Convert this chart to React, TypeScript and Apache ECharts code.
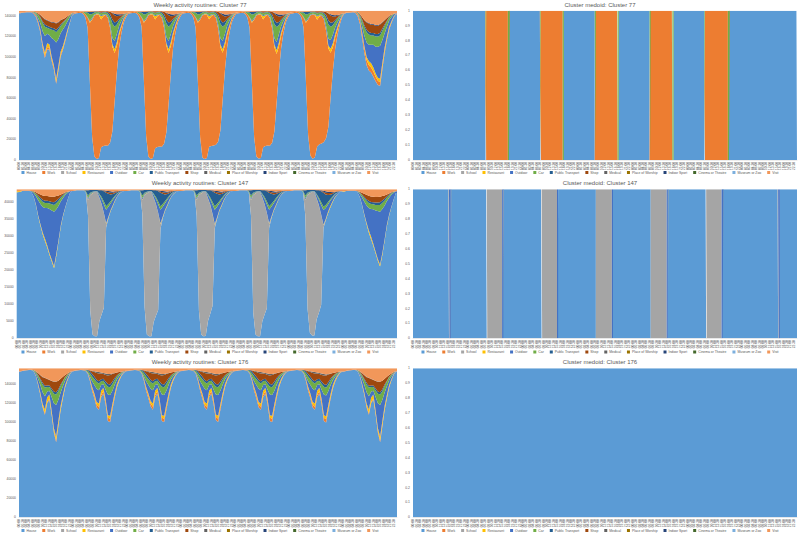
import React, { useEffect, useRef } from "react";
import * as echarts from "echarts";

const SERIES_NAMES = ["House","Work","School","Restaurant","Outdoor","Car","Public Transport","Shop","Medical","Place of Worship","Indoor Sport","Cinema or Theatre","Museum or Zoo","Visit"];
const SERIES_COLORS = ["#5B9BD5","#ED7D31","#A5A5A5","#FFC000","#4472C4","#70AD47","#255E91","#9E480E","#636363","#997300","#264478","#43682B","#7CAFDD","#F1975A"];
const DAY_TICKS = ["00:00","01:30","03:00","04:30","06:00","07:30","09:00","10:30","12:00","13:30","15:00","16:30","18:00","19:30","21:00","22:30"];

// ---------- Cluster 77 (thousands of people, hourly, Sun..Sat) ----------
const c77Total = 145;
const c77Work = [
  [.5,.5,.5,.5,.5,.5,1,1.5,2,2,2.5,2.5,2.5,2,2,2,2,2,2,1.5,1,1,.5,.5],
  [1,1,1,1,1.5,3,10,58,114,137,140.5,139,124,126,127,124,111,82,47,25,12,6,3,2],
  [1,1,1,1,1.5,3,9,56,113,137,140.5,139,125,127,128,125,112,84,49,26,12,6,3,2],
  [1,1,1,1,1.5,3,10,57,114,138,140.5,139,124,126,127,123,110,81,46,24,12,6,3,2],
  [1,1,1,1,1.5,3,10,58,114,137,140,139,124,126,127,124,111,82,47,25,12,6,3,2],
  [1,1,1,1,1.5,3,10,56,112,136,140,138,123,124,124,119,104,76,43,23,11,6,3,1.5],
  [.5,.5,.5,.5,.5,1,2,3,4,5,5,5,5,5,4.5,4,3.5,3,2.5,2,1.5,1,.5,.5],
];
const c77Restaurant = [
  [0,0,0,0,0,0,0,.3,.5,1,1.5,3,4,3,2,2,3,3,3,2.5,2,1.5,.5,0],
  [0,0,0,0,0,0,.3,.8,.5,.3,.3,.6,3,1,.3,.5,1,2.5,3.5,3.5,3,2,1,.3],
  [0,0,0,0,0,0,.3,.8,.5,.3,.3,.6,3,1,.3,.5,1,2.5,3.5,3.5,3,2,1,.3],
  [0,0,0,0,0,0,.3,.8,.5,.3,.3,.6,2.8,1,.3,.5,1,2.5,3.4,3.5,3,2,1,.3],
  [0,0,0,0,0,0,.3,.8,.5,.3,.3,.6,3,1,.3,.5,1,2.6,3.6,3.6,3.1,2,1,.3],
  [0,0,0,0,0,0,.3,.8,.5,.3,.3,.6,3.2,1.1,.4,.6,1.2,2.8,3.8,3.8,3.3,2.3,1.2,.4],
  [0,0,0,0,0,0,.2,.8,1.5,2,3,4,4,4,3,3,3.5,3.5,3,2,1.5,1,.3,0],
];
const c77Outdoor = [
  [0,0,0,0,0,0,.5,1,3,6,12,16,9,9,18,25,35,26,18,16,12,8,5,1.5],
  [0,0,0,0,0,0,.5,1,1,.5,.5,.5,1,.5,.5,1.5,3,6,8,8,6,4,2,.8],
  [0,0,0,0,0,0,.5,1,1,.5,.5,.5,1,.5,.5,1.5,3,6,8,8,6,4,2,.8],
  [0,0,0,0,0,0,.5,1,1,.5,.5,.5,1,.5,.5,1.5,3.2,6.2,8,8,6,4,2,.8],
  [0,0,0,0,0,0,.5,1,1,.5,.5,.5,1,.5,.5,1.5,3,6,8.2,8.2,6.2,4,2,.8],
  [0,0,0,0,0,0,.5,1,1,.5,.5,.6,1,.6,.6,1.8,3.5,6.5,8.5,8.5,6.5,4.5,2.5,1],
  [0,0,0,0,0,0,.5,2,6,10,14,16,18,22,26,30,32,22,14,9,6,4,2,.5],
];
const c77Car = [
  [0,0,0,0,0,0,.5,1,3,5,8,9,6,6,8,9,10,9,7,6,5,3.5,2,.5],
  [0,0,0,0,.5,2,4,6,4,2,1.5,1.5,2,2,1.5,2.5,7,14,14,9,5,3,1.5,.5],
  [0,0,0,0,.5,2,4,6,4,2,1.5,1.5,2,2,1.5,2.5,7,13,14,9,5,3,1.5,.5],
  [0,0,0,0,.5,2,4,6,4,2,1.5,1.5,2,2,1.5,2.5,7,14,14,9,5,3,1.5,.5],
  [0,0,0,0,.5,2,4,6,4,2,1.5,1.5,2,2,1.5,2.5,7,14,14.5,9,5,3,1.5,.5],
  [0,0,0,0,.5,2,4,6,4,2,1.5,1.5,2,2,2,3,8,14,13,9,5.5,3.5,2,.5],
  [0,0,0,0,0,0,.8,2,5,8,10,10,9,9,10,10,10,9,7,5,3,1.5,.5,0],
];
const c77PublicTransport = [
  [0,0,0,0,0,0,0,.3,.5,1,1.5,2,2,2,2,2,2.5,2,1.5,1,.7,.5,.2,0],
  [0,0,0,0,0,.5,1,2.5,2,1,.5,.5,.5,.5,.5,1,2.5,4,4,3,1.5,.8,.3,0],
  [0,0,0,0,0,.5,1,2.5,2,1,.5,.5,.5,.5,.5,1,2.5,4,4,3,1.5,.8,.3,0],
  [0,0,0,0,0,.5,1,2.5,2,1,.5,.5,.5,.5,.5,1,2.5,4,4,3,1.5,.8,.3,0],
  [0,0,0,0,0,.5,1,2.5,2,1,.5,.5,.5,.5,.5,1,2.5,4,4,3,1.5,.8,.3,0],
  [0,0,0,0,0,.5,1,2.5,2,1,.5,.5,.5,.5,.6,1.2,2.7,4,3.8,3,1.6,.9,.4,.1],
  [0,0,0,0,0,0,.3,.8,1.5,2,2.5,2.5,2.5,2.5,2.5,2.5,2.5,2,1.5,1,.5,.3,0,0],
];
const c77Shop = [
  [0,0,0,0,0,0,0,.3,1,2,4,5,5,5,5,5.5,6,5,4,3,2,1,.5,0],
  [0,0,0,0,0,0,0,.3,.4,.3,.3,.5,1.5,.8,.6,1,2.5,6,7,5,3,1.5,.5,.2],
  [0,0,0,0,0,0,0,.3,.4,.3,.3,.5,1.5,.8,.6,1,2.5,6,7,5,3,1.5,.5,.2],
  [0,0,0,0,0,0,0,.3,.4,.3,.3,.5,1.4,.8,.6,1,2.6,6.2,7,5,3,1.5,.5,.2],
  [0,0,0,0,0,0,0,.3,.4,.3,.3,.5,1.5,.8,.6,1.1,2.6,6.2,7.2,5.2,3.2,1.6,.5,.2],
  [0,0,0,0,0,0,0,.3,.4,.3,.4,.6,1.6,.9,.8,1.3,3,6.5,7,5.5,3.5,2,.8,.3],
  [0,0,0,0,0,0,.2,1,2.5,5,7,8,8,8,8,8,8,6,4,2.5,1,.5,.2,0],
];
const c77IndoorSport = [
  [0,0,0,0,0,0,0,0,0,.2,.4,.5,.5,.5,.5,.5,.5,.4,.3,.2,.1,0,0,0],
  [0,0,0,0,0,0,0,0,0,0,0,0,0,0,0,0,0,.5,1.5,2,1.5,1,.3,0],
  [0,0,0,0,0,0,0,0,0,0,0,0,0,0,0,0,0,.5,1.5,2,1.5,1,.3,0],
  [0,0,0,0,0,0,0,0,0,0,0,0,0,0,0,0,0,.5,1.5,2,1.5,1,.3,0],
  [0,0,0,0,0,0,0,0,0,0,0,0,0,0,0,0,0,.5,1.5,2,1.5,1,.3,0],
  [0,0,0,0,0,0,0,0,0,0,0,0,0,0,0,0,0,.4,1.2,1.5,1.2,.8,.3,0],
  [0,0,0,0,0,0,0,0,0,.3,.5,.6,.6,.6,.6,.6,.5,.4,.3,.2,.1,0,0,0],
];
const c77Visit = [
  [2,1.5,1.2,1,1,1,1,1.5,2.5,4,6,8,9,10,11,11,12,11,9,8,7,5.5,4,2.5],
  [2,1.5,1.2,1,1,1,1,1,.8,.5,.5,.5,.5,.5,.5,.6,1,2,3,3.5,3.5,3.5,3,2.5],
  [2,1.5,1.2,1,1,1,1,1,.8,.5,.5,.5,.5,.5,.5,.6,1,2,3,3.5,3.6,3.5,3,2.5],
  [2,1.5,1.2,1,1,1,1,1,.8,.5,.5,.5,.5,.5,.5,.6,1,2,3,3.6,3.6,3.5,3,2.5],
  [2,1.5,1.2,1,1,1,1,1,.8,.5,.5,.5,.5,.5,.5,.6,1.1,2.1,3.1,3.7,3.8,3.7,3.2,2.6],
  [2,1.6,1.3,1.1,1,1,1,1,.8,.5,.5,.5,.5,.5,.6,.7,1.2,2.4,3.5,4.2,4.5,4.2,3.6,3],
  [2.4,1.8,1.4,1.2,1,1,1.2,3,6,9,11,12,13,13,14,14,13,11,9,7,5,4,3,2.5],
];

// ---------- Cluster 147 ----------
const c147Total = 43.8;
const c147School = [
  [0,0,0,0,0,0,0,0,0,0,0,0,0,0,0,0,0,0,0,0,0,0,0,0],
  [0,0,0,0,0,0,0,4.5,34,41.5,42.5,42.5,36.3,32.4,27.8,1,.3,0,0,0,0,0,0,0],
  [0,0,0,0,0,0,0,4,33,41.5,42.5,42.5,36.5,32.8,28.5,1.5,.3,0,0,0,0,0,0,0],
  [0,0,0,0,0,0,0,4.5,34,41.5,42.5,42.4,36,32,27,1,.3,0,0,0,0,0,0,0],
  [0,0,0,0,0,0,0,4.5,34.5,41.5,42.5,42.5,36.3,32.4,28,1.2,.3,0,0,0,0,0,0,0],
  [0,0,0,0,0,0,0,4.5,33.5,41,42.3,42.3,35.5,31.5,26.5,.8,.2,0,0,0,0,0,0,0],
  [0,0,0,0,0,0,0,0,0,0,0,0,0,0,0,0,0,0,0,0,0,0,0,0],
];
const c147Restaurant = [
  [.3,.2,.1,0,0,0,0,.1,.2,.3,.4,.6,.8,.6,.5,.5,.6,.6,.5,.4,.3,.2,.1,0],
  [0,0,0,0,0,0,0,.1,.1,.1,0,0,.1,.1,.1,.2,.2,.3,.3,.2,.1,.1,0,0],
  [0,0,0,0,0,0,0,.1,.1,.1,0,0,.1,.1,.1,.2,.2,.3,.3,.2,.1,.1,0,0],
  [0,0,0,0,0,0,0,.1,.1,.1,0,0,.1,.1,.1,.2,.2,.3,.3,.2,.1,.1,0,0],
  [0,0,0,0,0,0,0,.1,.1,.1,0,0,.1,.1,.1,.2,.2,.3,.3,.2,.1,.1,0,0],
  [0,0,0,0,0,0,0,.1,.1,.1,0,0,.1,.1,.1,.2,.3,.4,.4,.3,.2,.1,0,0],
  [.1,0,0,0,0,0,0,.1,.2,.3,.4,.6,.8,.6,.5,.5,.6,.6,.5,.4,.3,.2,.1,0],
];
const c147Outdoor = [
  [0,0,0,0,0,0,.3,1,2.5,4.5,6,7.5,9,11,13,14.5,16,13,10,7,5,3.5,2,.5],
  [0,0,0,0,0,0,.1,.5,.3,.2,.1,.1,.8,1.5,2.5,4,3,2,1.5,1,.6,.3,.1,0],
  [0,0,0,0,0,0,.1,.5,.3,.2,.1,.1,.8,1.5,2.5,4,3,2,1.5,1,.6,.3,.1,0],
  [0,0,0,0,0,0,.1,.5,.3,.2,.1,.1,.9,1.6,2.7,4.2,3.1,2,1.5,1,.6,.3,.1,0],
  [0,0,0,0,0,0,.1,.5,.3,.2,.1,.1,.8,1.5,2.5,4,3,2,1.5,1,.6,.3,.1,0],
  [0,0,0,0,0,0,.1,.5,.3,.2,.1,.1,.9,1.7,2.8,4.3,3.2,2.2,1.6,1.1,.7,.4,.2,0],
  [0,0,0,0,0,0,.3,.8,2,3.5,5,6.5,8,10,12,14,15.5,13,10,7,5,3.5,2,.5],
];
const c147Car = [
  [0,0,0,0,0,0,.1,.3,.6,1,1.3,1.5,1.5,1.5,1.6,1.8,2,1.8,1.4,1,.7,.4,.2,0],
  [0,0,0,0,0,0,.2,.8,.3,.2,.1,.1,.3,.5,.8,1,.8,.6,.5,.3,.2,.1,0,0],
  [0,0,0,0,0,0,.2,.8,.3,.2,.1,.1,.3,.5,.8,1,.8,.6,.5,.3,.2,.1,0,0],
  [0,0,0,0,0,0,.2,.8,.3,.2,.1,.1,.3,.5,.8,1,.8,.6,.5,.3,.2,.1,0,0],
  [0,0,0,0,0,0,.2,.8,.3,.2,.1,.1,.3,.5,.8,1,.8,.6,.5,.3,.2,.1,0,0],
  [0,0,0,0,0,0,.2,.8,.3,.2,.1,.1,.3,.5,.8,1,.9,.7,.5,.3,.2,.1,0,0],
  [0,0,0,0,0,0,.1,.3,.6,1,1.3,1.5,1.5,1.5,1.6,1.8,2,1.8,1.4,1,.7,.4,.2,0],
];
const c147PublicTransport = [
  [0,0,0,0,0,0,0,.1,.2,.4,.5,.6,.6,.6,.7,.7,.8,.7,.6,.4,.3,.2,.1,0],
  [0,0,0,0,0,0,.2,1.5,.8,.5,.3,.3,1,2,3,4,3,2,1.2,.7,.4,.2,.1,0],
  [0,0,0,0,0,0,.2,1.5,.8,.5,.3,.3,1,2,3,4,3,2,1.2,.7,.4,.2,.1,0],
  [0,0,0,0,0,0,.2,1.5,.8,.5,.3,.3,1.1,2.1,3.1,4,3,2,1.2,.7,.4,.2,.1,0],
  [0,0,0,0,0,0,.2,1.5,.8,.5,.3,.3,1,2,3,4,3,2,1.2,.7,.4,.2,.1,0],
  [0,0,0,0,0,0,.2,1.5,.8,.5,.3,.3,1.1,2.2,3.2,4.1,3.1,2.1,1.3,.8,.5,.3,.1,0],
  [0,0,0,0,0,0,0,.1,.2,.4,.5,.6,.6,.6,.7,.7,.8,.7,.6,.4,.3,.2,.1,0],
];
const c147Shop = [
  [0,0,0,0,0,0,0,.1,.3,.6,1,1.3,1.4,1.4,1.4,1.5,1.6,1.4,1,.6,.3,.1,0,0],
  [0,0,0,0,0,0,0,0,0,0,0,0,.1,.1,.2,.3,.4,.5,.4,.3,.2,.1,0,0],
  [0,0,0,0,0,0,0,0,0,0,0,0,.1,.1,.2,.3,.4,.5,.4,.3,.2,.1,0,0],
  [0,0,0,0,0,0,0,0,0,0,0,0,.1,.1,.2,.3,.4,.5,.4,.3,.2,.1,0,0],
  [0,0,0,0,0,0,0,0,0,0,0,0,.1,.1,.2,.3,.4,.5,.4,.3,.2,.1,0,0],
  [0,0,0,0,0,0,0,0,0,0,0,0,.1,.1,.2,.3,.5,.6,.5,.4,.2,.1,0,0],
  [0,0,0,0,0,0,0,.2,.5,.9,1.3,1.5,1.6,1.6,1.6,1.6,1.6,1.3,1,.6,.3,.1,0,0],
];
const c147IndoorSport = [
  [0,0,0,0,0,0,0,0,0,0,0,0,0,0,0,0,0,0,0,0,0,0,0,0],
  [0,0,0,0,0,0,0,0,0,0,0,0,0,0,.1,.3,.4,.4,.3,.2,0,0,0,0],
  [0,0,0,0,0,0,0,0,0,0,0,0,0,0,.1,.3,.4,.4,.3,.2,0,0,0,0],
  [0,0,0,0,0,0,0,0,0,0,0,0,0,0,.1,.3,.4,.4,.3,.2,0,0,0,0],
  [0,0,0,0,0,0,0,0,0,0,0,0,0,0,.1,.3,.4,.4,.3,.2,0,0,0,0],
  [0,0,0,0,0,0,0,0,0,0,0,0,0,0,.1,.3,.4,.4,.3,.2,0,0,0,0],
  [0,0,0,0,0,0,0,0,0,0,0,0,0,0,0,0,0,0,0,0,0,0,0,0],
];
const c147Visit = [
  [.6,.5,.4,.4,.4,.4,.5,.6,.9,1.2,1.5,1.8,2,2,2.1,2.2,2.2,2,1.8,1.5,1.2,.9,.7,.6],
  [.5,.4,.3,.3,.3,.3,.3,.3,.2,.2,.2,.2,.2,.2,.3,.4,.5,.6,.7,.6,.5,.4,.5,.5],
  [.5,.4,.3,.3,.3,.3,.3,.3,.2,.2,.2,.2,.2,.2,.3,.4,.5,.6,.7,.6,.5,.4,.5,.5],
  [.5,.4,.3,.3,.3,.3,.3,.3,.2,.2,.2,.2,.2,.2,.3,.4,.5,.6,.7,.6,.5,.4,.5,.5],
  [.5,.4,.3,.3,.3,.3,.3,.3,.2,.2,.2,.2,.2,.2,.3,.4,.5,.6,.7,.6,.5,.4,.5,.5],
  [.5,.4,.3,.3,.3,.3,.3,.3,.2,.2,.2,.2,.2,.2,.3,.4,.6,.7,.8,.8,.7,.6,.6,.6],
  [.6,.5,.4,.4,.4,.4,.5,.7,1,1.3,1.6,1.9,2.1,2.2,2.3,2.3,2.2,2,1.8,1.5,1.2,.9,.7,.6],
];

// ---------- Cluster 176 ----------
const c176Total = 156.8;
const c176Work = [
  [.3,.3,.3,.3,.3,.3,.4,.6,1,1.2,1.5,1.5,1.2,1.2,1.5,1.8,2,1.8,1.2,.8,.6,.5,.4,.3],
  [.3,.3,.3,.3,.4,.5,.8,1.5,2.5,3,3,3,2.5,2.5,3,3.5,3.5,3,2,1.2,.8,.5,.4,.3],
  [.3,.3,.3,.3,.4,.5,.8,1.5,2.5,3,3,3,2.5,2.5,3,3.5,3.5,3,2,1.2,.8,.5,.4,.3],
  [.3,.3,.3,.3,.4,.5,.8,1.5,2.5,3,3,3,2.5,2.5,3,3.5,3.5,3,2,1.2,.8,.5,.4,.3],
  [.3,.3,.3,.3,.4,.5,.8,1.5,2.5,3,3,3,2.5,2.5,3,3.5,3.5,3,2,1.2,.8,.5,.4,.3],
  [.3,.3,.3,.3,.4,.5,.8,1.5,2.5,3,3,3,2.5,2.5,3,3.5,3.5,3,2,1.2,.8,.5,.4,.3],
  [.3,.3,.3,.3,.3,.3,.4,.6,1,1.2,1.5,1.5,1.2,1.2,1.5,1.8,2,1.8,1.2,.8,.6,.5,.4,.3],
];
const c176Restaurant = [
  [0,0,0,0,0,0,0,.3,.8,1.5,2.5,4,5,4,3,3,4,4,3.5,3,2,1,.4,0],
  [0,0,0,0,0,0,.2,.8,1.5,2,2.5,3.5,4.5,3.5,2.5,2.5,3,3,3,2.5,1.5,.8,.3,0],
  [0,0,0,0,0,0,.2,.8,1.5,2,2.5,3.5,4.5,3.5,2.5,2.5,3,3,3,2.5,1.5,.8,.3,0],
  [0,0,0,0,0,0,.2,.8,1.5,2,2.5,3.5,4.5,3.5,2.5,2.5,3,3,3,2.5,1.5,.8,.3,0],
  [0,0,0,0,0,0,.2,.8,1.5,2,2.5,3.5,4.5,3.5,2.5,2.5,3,3,3,2.5,1.5,.8,.3,0],
  [0,0,0,0,0,0,.2,.8,1.5,2,2.5,3.5,4.5,3.5,2.5,2.5,3,3.2,3.2,2.8,1.8,1,.4,0],
  [0,0,0,0,0,0,0,.3,.8,1.5,2.5,4,5,4,3,3,4,4,3.5,3,2,1,.4,0],
];
const c176Outdoor = [
  [0,0,0,0,0,0,.5,2,5,8,12,14,6,4,14,26,33,22,14,9,5,3,1,.3],
  [0,0,0,0,0,0,.5,2,6,9,14,14,6,4,10,22,22,14,9,5,3,1.5,.5,.2],
  [0,0,0,0,0,0,.5,2,6,9,13,14,6,4,10,22,22,14,9,5,3,1.5,.5,.2],
  [0,0,0,0,0,0,.5,2,6,9,14,14,6,4,10,21,22,14,9,5,3,1.5,.5,.2],
  [0,0,0,0,0,0,.5,2,6,9,14,14,6,4,10,22,22,14,9,5,3,1.5,.5,.2],
  [0,0,0,0,0,0,.5,2,6,9,14,14,6,4,10,22,22,14,9,5,3,1.5,.5,.2],
  [0,0,0,0,0,0,.5,2,5,8,12,14,6,4,14,26,33,22,14,9,5,3,1,.3],
];
const c176Car = [
  [0,0,0,0,0,0,.5,1.5,3,5,8,9,5,4,7,10,11,9,7,5,3,1.5,.5,0],
  [0,0,0,0,0,.3,1.5,3.5,5,6,7,7,4,3.5,6,8,8,7,5,3,2,1,.4,0],
  [0,0,0,0,0,.3,1.5,3.5,5,6,7,7,4,3.5,6,8,8,7,5,3,2,1,.4,0],
  [0,0,0,0,0,.3,1.5,3.5,5,6,7,7,4,3.5,6,8,8,7,5,3,2,1,.4,0],
  [0,0,0,0,0,.3,1.5,3.5,5,6,7,7,4,3.5,6,8,8,7,5,3,2,1,.4,0],
  [0,0,0,0,0,.3,1.5,3.5,5,6,7,7,4,3.5,6,8,8,7,5,3,2,1,.4,0],
  [0,0,0,0,0,0,.5,1.5,3,5,8,9,5,4,7,10,11,9,7,5,3,1.5,.5,0],
];
const c176PublicTransport = [
  [0,0,0,0,0,0,.2,.5,1,1.5,2,2,1.5,1.5,2,2.5,2.5,2,1.5,1,.5,.3,.1,0],
  [0,0,0,0,0,.2,.8,2,2.5,2.5,2.5,2.5,2,2,2.5,3,3,2.5,2,1.2,.6,.3,.1,0],
  [0,0,0,0,0,.2,.8,2,2.5,2.5,2.5,2.5,2,2,2.5,3,3,2.5,2,1.2,.6,.3,.1,0],
  [0,0,0,0,0,.2,.8,2,2.5,2.5,2.5,2.5,2,2,2.5,3,3,2.5,2,1.2,.6,.3,.1,0],
  [0,0,0,0,0,.2,.8,2,2.5,2.5,2.5,2.5,2,2,2.5,3,3,2.5,2,1.2,.6,.3,.1,0],
  [0,0,0,0,0,.2,.8,2,2.5,2.5,2.5,2.5,2,2,2.5,3,3,2.5,2,1.2,.6,.3,.1,0],
  [0,0,0,0,0,0,.2,.5,1,1.5,2,2,1.5,1.5,2,2.5,2.5,2,1.5,1,.5,.3,.1,0],
];
const c176Shop = [
  [0,0,0,0,0,0,0,.5,2,4,6,8,7,6,8,10,11,9,6,4,2,1,.3,0],
  [0,0,0,0,0,0,.2,1,3,5,7,8,6,5,7,9,10,8,5,3,1.5,.6,.2,0],
  [0,0,0,0,0,0,.2,1,3,5,7,8,6,5,7,9,10,8,5,3,1.5,.6,.2,0],
  [0,0,0,0,0,0,.2,1,3,5,7,8,6,5,7,9,10,8,5,3,1.5,.6,.2,0],
  [0,0,0,0,0,0,.2,1,3,5,7,8,6,5,7,9,10,8,5,3,1.5,.6,.2,0],
  [0,0,0,0,0,0,.2,1,3,5,7,8,6,5,7,9,10,8,5,3,1.5,.6,.2,0],
  [0,0,0,0,0,0,0,.5,2,4,6,8,7,6,8,10,11,9,6,4,2,1,.3,0],
];
const c176Medical = [
  [0,0,0,0,0,0,0,0,.1,.2,.3,.3,.2,.2,.3,.3,.2,.1,0,0,0,0,0,0],
  [0,0,0,0,0,0,0,.2,.5,1,1.5,1.5,1,1,1.5,1.5,1,.5,.2,0,0,0,0,0],
  [0,0,0,0,0,0,0,.2,.5,1,1.5,1.5,1,1,1.5,1.5,1,.5,.2,0,0,0,0,0],
  [0,0,0,0,0,0,0,.2,.5,1,1.5,1.5,1,1,1.5,1.5,1,.5,.2,0,0,0,0,0],
  [0,0,0,0,0,0,0,.2,.5,1,1.5,1.5,1,1,1.5,1.5,1,.5,.2,0,0,0,0,0],
  [0,0,0,0,0,0,0,.2,.5,1,1.5,1.5,1,1,1.5,1.5,1,.5,.2,0,0,0,0,0],
  [0,0,0,0,0,0,0,0,.1,.2,.3,.3,.2,.2,.3,.3,.2,.1,0,0,0,0,0,0],
];
const c176Visit = [
  [3,2.5,2,1.8,1.6,1.6,1.8,3,5,7,9,10,11,12,13,14,14,13,11,9,7,5.5,4,3],
  [2.5,2,1.8,1.6,1.6,1.6,1.6,2,2.5,3,3.5,4,4.5,5,5.5,6,6,5.5,5,4.5,4,3.5,3,2.5],
  [2.5,2,1.8,1.6,1.6,1.6,1.6,2,2.5,3,3.5,4,4.5,5,5.5,6,6,5.5,5,4.5,4,3.5,3,2.5],
  [2.5,2,1.8,1.6,1.6,1.6,1.6,2,2.5,3,3.5,4,4.5,5,5.5,6,6,5.5,5,4.5,4,3.5,3,2.5],
  [2.5,2,1.8,1.6,1.6,1.6,1.6,2,2.5,3,3.5,4,4.5,5,5.5,6,6,5.5,5,4.5,4,3.5,3,2.5],
  [2.5,2,1.8,1.6,1.6,1.6,1.6,2,2.5,3,3.5,4,4.5,5,5.5,6,6.5,6,5.5,5,4.5,4,3.5,3],
  [3,2.5,2,1.8,1.6,1.6,1.8,3,5,7,9,10,11,12,13,14,14,13,11,9,7,5.5,4,3],
];

// ---------- Medoids: [activity, day (0=Sun), start hour, end hour]; rest of the week is House ----------
type Seg = [string, number, number, number];
const med77Segments: Seg[] = [
  ["Car",1,7.75,8],["Work",1,8,17.5],["Car",1,17.5,18],
  ["Car",2,7.75,8],["Work",2,8,17.5],["Car",2,17.5,18],
  ["Car",3,7.5,7.75],["Work",3,7.75,17.5],["Car",3,17.5,18],
  ["Car",4,7.5,7.75],["Work",4,7.75,17.5],["Car",4,17.5,18],
  ["Car",5,7.5,7.75],["Work",5,7.75,17.75],["Car",5,17.75,18.25],
];
const med147Segments: Seg[] = [
  ["Outdoor",0,15.75,16.5],
  ["School",1,8.25,15],["Outdoor",1,15,15.5],
  ["School",2,8.25,15],["Outdoor",2,15,15.5],
  ["School",3,8,15],["Outdoor",3,15,15.5],
  ["School",4,8,15],["Outdoor",4,15,15.5],
  ["School",5,8.25,15],["Outdoor",5,15,15.5],
  ["Outdoor",6,15.75,16.5],
];
const med176Segments: Seg[] = [];

// ---------- builders ----------
function flatDays(d?: number[][]): number[] {
  return d ? d.flat() : new Array(168).fill(0);
}

// data items are [value, hour]; encode maps dim 1 -> x, dim 0 -> y so that the stack runs on the value.
// Series that are zero all week get no points (they still appear in the legend).
function lineSeries(name: string, k: number, data: number[][], step: boolean) {
  const color = SERIES_COLORS[k];
  const used = data.some((d) => d[0] !== 0);
  return {
    name, type: "line", stack: "all", data: used ? data : [], step: step ? "end" : false,
    encode: { x: 1, y: 0 },
    symbol: "none", showSymbol: false, color,
    lineStyle: { width: 0, color }, itemStyle: { color },
    areaStyle: { color, opacity: 1 }, emphasis: { disabled: true }, silent: true,
  };
}

function buildAggregate(total: number, parts: Record<string, number[][]>) {
  const vals = SERIES_NAMES.map((n) => flatDays(parts[n]));
  vals[0] = vals[0].map((_, i) => total - vals.slice(1).reduce((s, v) => s + v[i], 0));
  return SERIES_NAMES.map((name, k) => {
    const v = vals[k];
    const data: number[][] = [[v[0] * 1000, 0]];
    for (let i = 0; i < 168; i++) data.push([v[i] * 1000, i + 0.5]);
    data.push([v[167] * 1000, 168]);
    return lineSeries(name, k, data, false);
  });
}

function buildMedoid(segs: Seg[]) {
  const act: string[] = new Array(672).fill("House");
  segs.forEach(([n, d, s, e]) => {
    for (let q = Math.round((d * 24 + s) * 4); q < Math.round((d * 24 + e) * 4); q++) act[q] = n;
  });
  return SERIES_NAMES.map((name, k) => {
    const data: number[][] = [];
    for (let q = 0; q <= 672; q++) data.push([act[Math.min(q, 671)] === name ? 1 : 0, q / 4]);
    return lineSeries(name, k, data, true);
  });
}

const TXT = "#595959";
const FONT = "Liberation Sans, Arial, sans-serif";

type Layout = { top: number; h: number; gridTop: number; gridBottom: number; titleTop: number; legendTop: number };
const ROWS: Layout[] = [
  { top: 0, h: 178, gridTop: 10.7, gridBottom: 18, titleTop: 1.5, legendTop: 171 },
  { top: 178, h: 179, gridTop: 11.3, gridBottom: 18.7, titleTop: 2.3, legendTop: 172.5 },
  { top: 357, h: 178, gridTop: 11.3, gridBottom: 17.7, titleTop: 2, legendTop: 172 },
];

function makeOption(title: string, series: any[], row: Layout, gridLeft: number, yMax: number, yInterval: number, showMax: boolean) {
  return {
    animation: false,
    title: { text: title, left: "center", top: row.titleTop, padding: 0, textStyle: { fontSize: 6, fontWeight: "normal", color: TXT, fontFamily: FONT } },
    grid: { left: gridLeft, right: 3, top: row.gridTop, bottom: row.gridBottom, containLabel: false },
    legend: {
      data: SERIES_NAMES, top: row.legendTop, left: "center", icon: "rect",
      itemWidth: 3, itemHeight: 3, itemGap: 6, padding: 0, selectedMode: false,
      textStyle: { fontSize: 3.4, color: TXT, fontFamily: FONT, padding: [0, 0, 0, -3] },
    },
    xAxis: {
      type: "value", min: 0, max: 168, interval: 1.5,
      axisLine: { show: true, lineStyle: { color: "#D9D9D9", width: 0.5 } },
      axisTick: { show: false }, splitLine: { show: false },
      axisLabel: {
        rotate: 90, fontSize: 3.2, color: TXT, fontFamily: FONT, margin: 2, showMaxLabel: false,
        formatter: (v: number) => DAY_TICKS[Math.round(v / 1.5) % 16],
      },
    },
    yAxis: {
      type: "value", min: 0, max: yMax, interval: yInterval,
      axisLine: { show: false }, axisTick: { show: false }, splitLine: { show: false },
      axisLabel: { fontSize: 3.4, color: TXT, fontFamily: FONT, margin: 3, showMaxLabel: showMax, formatter: (v: number) => String(v) },
    },
    series,
  };
}

function Chart({ option, style }: { option: any; style: React.CSSProperties }) {
  const ref = useRef<HTMLDivElement>(null);
  useEffect(() => {
    const chart = echarts.init(ref.current as HTMLDivElement, undefined, { renderer: "svg" });
    chart.setOption(option);
    return () => chart.dispose();
  }, []);
  return <div ref={ref} style={style} />;
}

export default function App() {
  const panels = [
    {
      row: ROWS[0],
      left: makeOption("Weekly activity routines: Cluster 77", buildAggregate(c77Total, {
        Work: c77Work, Restaurant: c77Restaurant, Outdoor: c77Outdoor, Car: c77Car,
        "Public Transport": c77PublicTransport, Shop: c77Shop, "Indoor Sport": c77IndoorSport, Visit: c77Visit,
      }), ROWS[0], 19, c77Total * 1000, 20000, false),
      right: makeOption("Cluster medoid: Cluster 77", buildMedoid(med77Segments), ROWS[0], 13, 1, 0.1, true),
    },
    {
      row: ROWS[1],
      left: makeOption("Weekly activity routines: Cluster 147", buildAggregate(c147Total, {
        School: c147School, Restaurant: c147Restaurant, Outdoor: c147Outdoor, Car: c147Car,
        "Public Transport": c147PublicTransport, Shop: c147Shop, "Indoor Sport": c147IndoorSport, Visit: c147Visit,
      }), ROWS[1], 16.7, c147Total * 1000, 5000, false),
      right: makeOption("Cluster medoid: Cluster 147", buildMedoid(med147Segments), ROWS[1], 13, 1, 0.1, true),
    },
    {
      row: ROWS[2],
      left: makeOption("Weekly activity routines: Cluster 176", buildAggregate(c176Total, {
        Work: c176Work, Restaurant: c176Restaurant, Outdoor: c176Outdoor, Car: c176Car,
        "Public Transport": c176PublicTransport, Shop: c176Shop, Medical: c176Medical, Visit: c176Visit,
      }), ROWS[2], 19, c176Total * 1000, 20000, false),
      right: makeOption("Cluster medoid: Cluster 176", buildMedoid(med176Segments), ROWS[2], 13, 1, 0.1, true),
    },
  ];
  return (
    <div style={{ position: "absolute", left: 0, top: 0, width: 800, height: 535, background: "#fff" }}>
      {panels.map((p, i) => (
        <React.Fragment key={i}>
          <Chart option={p.left} style={{ position: "absolute", left: 0, top: p.row.top, width: 400, height: p.row.h }} />
          <Chart option={p.right} style={{ position: "absolute", left: 400, top: p.row.top, width: 400, height: p.row.h }} />
        </React.Fragment>
      ))}
    </div>
  );
}
